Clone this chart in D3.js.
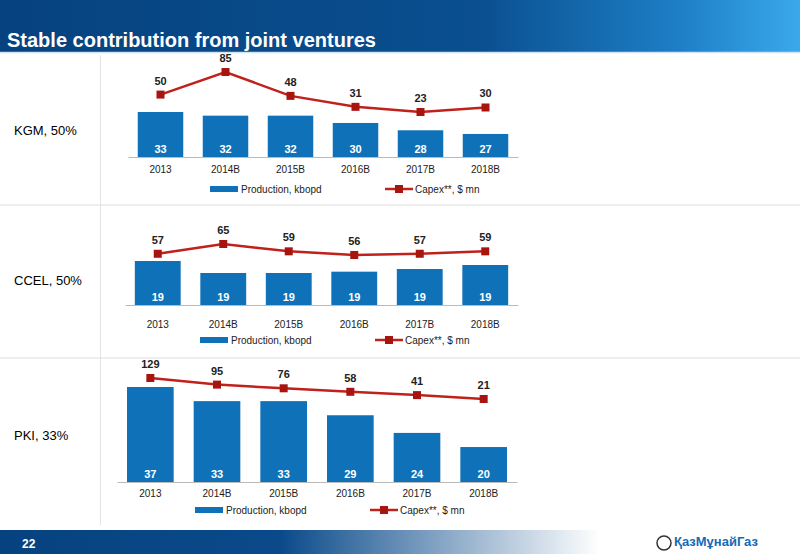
<!DOCTYPE html><html><head><meta charset="utf-8"><script src="https://cdn.jsdelivr.net/npm/d3@7"></script>
<style>body{margin:0}svg{font-family:Arial,"Liberation Sans",sans-serif}</style></head><body><svg id="c" width="800" height="554"></svg>
<script>
const categories=["2013","2014B","2015B","2016B","2017B","2018B"];
const kgmProd=[33,32,32,30,28,27];
const kgmCapex=[50,85,48,31,23,30];
const ccelProd=[19.4,18.5,18.5,18.6,18.8,19.1];
const ccelProdLabels=[19,19,19,19,19,19];
const ccelCapex=[57,65,59,56,57,59];
const pkiProd=[37,33,33,29,24,20];
const pkiCapex=[129,95,76,58,41,21];
const panels=[
 {name:"KGM, 50%",prod:kgmProd,labels:kgmProd,capex:kgmCapex,x0:128,x1:518,base:157,top:112,pmin:20.7,lineY:[72,112],lineD:[85,23],tickY:173,legY:193,labelY:135,legX:[210,385]},
 {name:"CCEL, 50%",prod:ccelProd,labels:ccelProdLabels,capex:ccelCapex,x0:125,x1:518,base:305,top:261,pmin:16.1,lineY:[244,255],lineD:[65,56],tickY:328,legY:344,labelY:285,legX:[200,375]},
 {name:"PKI, 33%",prod:pkiProd,labels:pkiProd,capex:pkiCapex,x0:117,x1:517,base:482,top:387,pmin:10.1,lineY:[378,399],lineD:[129,21],tickY:497,legY:514,labelY:440,legX:[195,370]}
];
const svg=d3.select("#c");
const defs=svg.append("defs");
const g1=defs.append("linearGradient").attr("id","hg");
g1.append("stop").attr("offset","0").attr("stop-color","#06427f");
g1.append("stop").attr("offset","0.6").attr("stop-color","#0a4f90");
g1.append("stop").attr("offset","0.85").attr("stop-color","#1e7fc6");
g1.append("stop").attr("offset","1").attr("stop-color","#3aa9ea");
const g2=defs.append("linearGradient").attr("id","fg");
g2.append("stop").attr("offset","0").attr("stop-color","#06427f");
g2.append("stop").attr("offset","0.35").attr("stop-color","#0a4a8a");
g2.append("stop").attr("offset","0.75").attr("stop-color","#ffffff");
svg.append("rect").attr("width",800).attr("height",554).attr("fill","#fff");
svg.append("rect").attr("width",800).attr("height",52).attr("fill","url(#hg)");
svg.append("line").attr("x1",0).attr("x2",800).attr("y1",52.5).attr("y2",52.5).attr("stroke","#cfe3f5").attr("stroke-width",1.5);
svg.append("text").attr("x",7).attr("y",47).attr("fill","#fff").attr("font-size",20).attr("font-weight","bold").text("Stable contribution from joint ventures");
svg.append("rect").attr("y",530).attr("width",800).attr("height",24).attr("fill","url(#fg)");
svg.append("text").attr("x",22).attr("y",548).attr("fill","#fff").attr("font-size",12).attr("font-weight","bold").text("22");
svg.append("circle").attr("cx",664).attr("cy",543).attr("r",7).attr("fill","#fff").attr("stroke","#333").attr("stroke-width",1.5);
svg.append("text").attr("x",674).attr("y",546).attr("fill","#1769b3").attr("font-size",13).attr("font-weight","bold").text("ҚазМұнайГаз");
svg.append("line").attr("x1",100.5).attr("x2",100.5).attr("y1",55).attr("y2",525).attr("stroke","#e4e4e4");
[205,358].forEach(y=>svg.append("line").attr("x1",0).attr("x2",800).attr("y1",y).attr("y2",y).attr("stroke","#ddd"));
panels.forEach(p=>{
 const x=d3.scaleBand().domain(categories).range([p.x0,p.x1]).paddingInner(0.3).paddingOuter(0.15);
 const maxV=d3.max(p.prod);
 const y=d3.scaleLinear().domain([p.pmin,maxV]).range([p.base,p.top]);
 const yl=d3.scaleLinear().domain(p.lineD).range(p.lineY);
 const g=svg.append("g");
 svg.append("text").attr("x",14).attr("y",p.labelY).attr("font-size",13).attr("fill","#000").text(p.name);
 g.selectAll("rect.b").data(p.prod).join("rect").attr("x",(d,i)=>x(categories[i])).attr("width",x.bandwidth()).attr("y",d=>y(d)).attr("height",d=>p.base-y(d)).attr("fill","#0f72b8");
 g.selectAll("text.bl").data(p.labels).join("text").attr("x",(d,i)=>x(categories[i])+x.bandwidth()/2).attr("y",p.base-4).attr("text-anchor","middle").attr("fill","#fff").attr("font-size",11).attr("font-weight","bold").text(d=>d);
 const ax=d3.axisBottom(x).tickSize(0).tickPadding(0);
 const a=g.append("g").attr("transform",`translate(0,${p.base})`).call(ax);
 a.select(".domain").attr("stroke","#bbb");
 a.selectAll("text").attr("font-size",10).attr("fill","#222").attr("dy",0).attr("y",p.tickY-p.base);
 const cx=(d,i)=>x(categories[i])+x.bandwidth()/2;
 g.append("path").datum(p.capex).attr("fill","none").attr("stroke","#c0211b").attr("stroke-width",2.5).attr("d",d3.line().x(cx).y(d=>yl(d)));
 g.selectAll("rect.m").data(p.capex).join("rect").attr("x",(d,i)=>cx(d,i)-4).attr("y",d=>yl(d)-4).attr("width",8).attr("height",8).attr("fill","#a8150f");
 g.selectAll("text.cl").data(p.capex).join("text").attr("x",cx).attr("y",d=>yl(d)-10).attr("text-anchor","middle").attr("font-size",11).attr("font-weight","bold").attr("fill","#222").text(d=>d);
 g.append("rect").attr("x",p.legX[0]).attr("y",p.legY-7).attr("width",28).attr("height",6).attr("fill","#0f72b8");
 g.append("text").attr("x",p.legX[0]+31).attr("y",p.legY).attr("font-size",10).attr("fill","#222").text("Production, kbopd");
 g.append("line").attr("x1",p.legX[1]).attr("x2",p.legX[1]+28).attr("y1",p.legY-4).attr("y2",p.legY-4).attr("stroke","#c0211b").attr("stroke-width",2.5);
 g.append("rect").attr("x",p.legX[1]+10).attr("y",p.legY-8).attr("width",8).attr("height",8).attr("fill","#a8150f");
 g.append("text").attr("x",p.legX[1]+30).attr("y",p.legY).attr("font-size",10).attr("fill","#222").text("Capex**, $ mn");
});
</script></body></html>
